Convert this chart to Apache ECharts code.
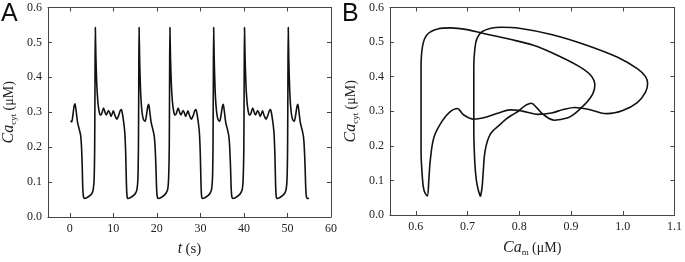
<!DOCTYPE html>
<html>
<head>
<meta charset="utf-8">
<script src="https://cdn.jsdelivr.net/npm/echarts@6/dist/echarts.min.js"></script>
<style>
  html, body { margin: 0; padding: 0; background: #fff; }
  #chart { width: 685px; height: 262px; }
</style>
</head>
<body>
<div id="chart"></div>
<script>
// panel A: time course of cytosolic Ca
const timeA = [
  0.2, 0.45, 0.7, 1.0, 1.2, 1.45, 1.8, 2.2, 2.5, 2.7, 2.85, 3.0, 3.15, 3.4, 4.0, 4.6, 5.1, 5.4, 5.6, 5.72, 5.8, 5.87,
  6.0, 6.2, 6.45, 6.7, 7.0, 7.3, 7.75, 8.1, 8.4, 8.9, 9.2, 9.5, 10.0, 10.4, 10.8, 11.2, 11.6, 11.85, 12.1, 12.4, 12.65, 12.85, 13.0, 13.15, 13.4, 14.0, 14.6, 15.1, 15.45, 15.65, 15.77, 15.85, 15.92,
  16.05, 16.3, 16.6, 16.9, 17.3, 17.6, 17.9, 18.12, 18.35, 18.7, 19.1, 19.4, 19.6, 19.8, 19.95, 20.1, 20.35, 21.0, 21.6, 22.1, 22.5, 22.7, 22.85, 22.93, 23.0,
  23.13, 23.33, 23.58, 23.83, 24.13, 24.43, 24.88, 25.23, 25.53, 26.03, 26.33, 26.63, 27.13, 27.53, 27.93, 28.33, 28.73, 28.98, 29.23, 29.53, 29.78, 29.98, 30.13, 30.28, 30.53, 31.13, 31.73, 32.23, 32.58, 32.78, 32.9, 32.98, 33.05,
  33.18, 33.43, 33.73, 34.03, 34.43, 34.73, 35.03, 35.25, 35.48, 35.83, 36.23, 36.53, 36.73, 36.93, 37.08, 37.23, 37.48, 38.13, 38.73, 39.23, 39.63, 39.83, 39.98, 40.06, 40.13,
  40.26, 40.46, 40.71, 40.96, 41.26, 41.56, 42.01, 42.36, 42.66, 43.16, 43.46, 43.76, 44.26, 44.66, 45.06, 45.46, 45.86, 46.11, 46.36, 46.66, 46.91, 47.11, 47.26, 47.41, 47.66, 48.26, 48.86, 49.36, 49.71, 49.91, 50.03, 50.11, 50.18,
  50.31, 50.56, 50.86, 51.16, 51.56, 51.86, 52.16, 52.38, 52.61, 52.96, 53.36, 53.66, 53.86, 54.06, 54.21, 54.36, 54.61, 54.95
]
const cytA = [
  0.276, 0.272, 0.29, 0.318, 0.324, 0.305, 0.27, 0.25, 0.234, 0.2, 0.15, 0.08, 0.058, 0.053, 0.056, 0.061, 0.068, 0.08, 0.11, 0.2, 0.4, 0.543,
  0.46, 0.38, 0.33, 0.305, 0.292, 0.295, 0.312, 0.3, 0.292, 0.305, 0.298, 0.288, 0.304, 0.29, 0.28, 0.29, 0.305, 0.308, 0.295, 0.27, 0.24, 0.18, 0.1, 0.06, 0.053, 0.056, 0.061, 0.068, 0.08, 0.11, 0.2, 0.4, 0.543,
  0.45, 0.35, 0.3, 0.28, 0.274, 0.29, 0.315, 0.323, 0.305, 0.27, 0.25, 0.232, 0.2, 0.14, 0.08, 0.058, 0.053, 0.056, 0.061, 0.068, 0.08, 0.11, 0.2, 0.4, 0.543,
  0.46, 0.38, 0.33, 0.305, 0.292, 0.295, 0.312, 0.3, 0.292, 0.305, 0.298, 0.288, 0.304, 0.29, 0.28, 0.29, 0.305, 0.308, 0.295, 0.27, 0.24, 0.18, 0.1, 0.06, 0.053, 0.056, 0.061, 0.068, 0.08, 0.11, 0.2, 0.4, 0.543,
  0.45, 0.35, 0.3, 0.28, 0.274, 0.29, 0.315, 0.323, 0.305, 0.27, 0.25, 0.232, 0.2, 0.14, 0.08, 0.058, 0.053, 0.056, 0.061, 0.068, 0.08, 0.11, 0.2, 0.4, 0.543,
  0.46, 0.38, 0.33, 0.305, 0.292, 0.295, 0.312, 0.3, 0.292, 0.305, 0.298, 0.288, 0.304, 0.29, 0.28, 0.29, 0.305, 0.308, 0.295, 0.27, 0.24, 0.18, 0.1, 0.06, 0.053, 0.056, 0.061, 0.068, 0.08, 0.11, 0.2, 0.4, 0.543,
  0.45, 0.35, 0.3, 0.28, 0.274, 0.29, 0.315, 0.323, 0.305, 0.27, 0.25, 0.232, 0.2, 0.14, 0.08, 0.058, 0.053, 0.054
]

// panel B: phase plane, Ca_m against Ca_cyt (one closed orbit)
const camB = [
  0.725, 0.721, 0.717, 0.714, 0.712, 0.712, 0.712, 0.714, 0.718, 0.728, 0.745, 0.765, 0.8, 0.862, 0.926, 0.99, 1.028, 1.044, 1.048, 1.044, 1.028, 1.0, 0.97, 0.958, 0.935, 0.907, 0.885, 0.862, 0.836, 0.815, 0.798, 0.782, 0.76, 0.731, 0.712, 0.692, 0.68, 0.666, 0.651, 0.635, 0.628, 0.625, 0.622,
  0.616, 0.613, 0.61, 0.61, 0.61, 0.613, 0.622, 0.642, 0.667, 0.699, 0.731, 0.782, 0.827, 0.862, 0.913, 0.938, 0.946, 0.942, 0.93, 0.919, 0.906, 0.894, 0.868, 0.846, 0.834, 0.823, 0.81, 0.798, 0.788, 0.775, 0.763, 0.744, 0.734, 0.73, 0.728, 0.725
]
const cytB = [
  0.053, 0.07, 0.1, 0.15, 0.25, 0.35, 0.43, 0.48, 0.51, 0.53, 0.54, 0.543, 0.54, 0.522, 0.493, 0.456, 0.423, 0.4, 0.38, 0.355, 0.325, 0.302, 0.293, 0.295, 0.305, 0.311, 0.305, 0.295, 0.291, 0.297, 0.303, 0.304, 0.295, 0.281, 0.277, 0.29, 0.308, 0.298, 0.272, 0.225, 0.16, 0.1, 0.055,
  0.07, 0.1, 0.187, 0.3, 0.423, 0.489, 0.522, 0.538, 0.541, 0.536, 0.525, 0.508, 0.491, 0.47, 0.432, 0.404, 0.375, 0.35, 0.325, 0.309, 0.292, 0.281, 0.274, 0.291, 0.31, 0.323, 0.315, 0.3, 0.291, 0.278, 0.262, 0.234, 0.187, 0.12, 0.08, 0.053
]

const timeTicks = [0, 10, 20, 30, 40, 50, 60]
const camTicks = [0.6, 0.7, 0.8, 0.9, 1.0, 1.1]

const serif = 'Liberation Serif'
const frame = '#444'

const yName = {
  name: '{i|Ca}{s|cyt} {u|(μM)}',
  nameLocation: 'middle',
  nameGap: 30,
  nameTextStyle: {
    rich: {
      i: { fontFamily: serif, fontStyle: 'italic', fontSize: 16, color: '#222' },
      s: { fontFamily: serif, fontSize: 9, color: '#222', padding: [9, 0, 0, 0] },
      u: { fontFamily: serif, fontSize: 14, color: '#222' }
    }
  }
}

const mkX = (grid, min, max, ticks, top, name) => ({
  type: 'value',
  gridIndex: grid,
  min: min,
  max: max,
  position: top ? 'top' : 'bottom',
  axisLine: { show: true, onZero: false, lineStyle: { color: frame, width: 1 } },
  axisTick: { show: true, inside: true, length: 4, customValues: ticks, lineStyle: { color: frame } },
  axisLabel: {
    show: !top,
    customValues: ticks,
    margin: 6,
    fontFamily: serif,
    fontSize: 12,
    color: '#222',
    formatter: (v) => (max > 10 ? String(v) : v.toFixed(1))
  },
  splitLine: { show: false },
  ...(name || {})
})

const mkY = (grid, right, name) => ({
  type: 'value',
  gridIndex: grid,
  min: 0,
  max: 0.6,
  interval: 0.1,
  position: right ? 'right' : 'left',
  axisLine: { show: true, onZero: false, lineStyle: { color: frame, width: 1 } },
  axisTick: { show: true, inside: true, length: 4, lineStyle: { color: frame } },
  axisLabel: {
    show: !right,
    margin: 6,
    fontFamily: serif,
    fontSize: 12,
    color: '#222',
    formatter: (v) => v.toFixed(1)
  },
  splitLine: { show: false },
  ...(name || {})
})

const chart = echarts.init(document.getElementById('chart'), null, { renderer: 'canvas' })

chart.setOption({
  animation: false,
  backgroundColor: '#fff',
  graphic: [
    { type: 'text', left: 1, top: 2, style: { text: 'A', fontFamily: 'Liberation Sans', fontSize: 25, fill: '#111' } },
    { type: 'text', left: 342, top: 2, style: { text: 'B', fontFamily: 'Liberation Sans', fontSize: 25, fill: '#111' } }
  ],
  grid: [
    { left: 44.5, top: 7.5, width: 286.5, height: 212 },
    { left: 390, top: 7.5, width: 287.5, height: 212 }
  ],
  xAxis: [
    mkX(0, -5, 60, timeTicks, false, {
      name: '{i|t} {u|(s)}',
      nameLocation: 'middle',
      nameGap: 24,
      nameTextStyle: {
        rich: {
          i: { fontFamily: serif, fontStyle: 'italic', fontSize: 16, color: '#222' },
          u: { fontFamily: serif, fontSize: 15, color: '#222' }
        }
      }
    }),
    mkX(0, -5, 60, timeTicks, true),
    mkX(1, 0.55, 1.1, camTicks, false, {
      name: '{i|Ca}{s|m} {u|(μM)}',
      nameLocation: 'middle',
      nameGap: 24,
      nameTextStyle: {
        rich: {
          i: { fontFamily: serif, fontStyle: 'italic', fontSize: 16, color: '#222' },
          s: { fontFamily: serif, fontSize: 9, color: '#222', padding: [9, 0, 0, 0] },
          u: { fontFamily: serif, fontSize: 14, color: '#222' }
        }
      }
    }),
    mkX(1, 0.55, 1.1, camTicks, true)
  ],
  yAxis: [
    mkY(0, false, yName),
    mkY(0, true),
    mkY(1, false, yName),
    mkY(1, true)
  ],
  series: [
    {
      type: 'line',
      xAxisIndex: 0,
      yAxisIndex: 0,
      data: timeA.map((t, i) => [t, cytA[i]]),
      showSymbol: false,
      smooth: 0.25,
      lineStyle: { color: '#111', width: 1.6 }
    },
    {
      type: 'line',
      xAxisIndex: 2,
      yAxisIndex: 2,
      data: camB.map((c, i) => [c, cytB[i]]),
      showSymbol: false,
      smooth: 0.35,
      lineStyle: { color: '#111', width: 1.6 }
    }
  ]
})
</script>
</body>
</html>
